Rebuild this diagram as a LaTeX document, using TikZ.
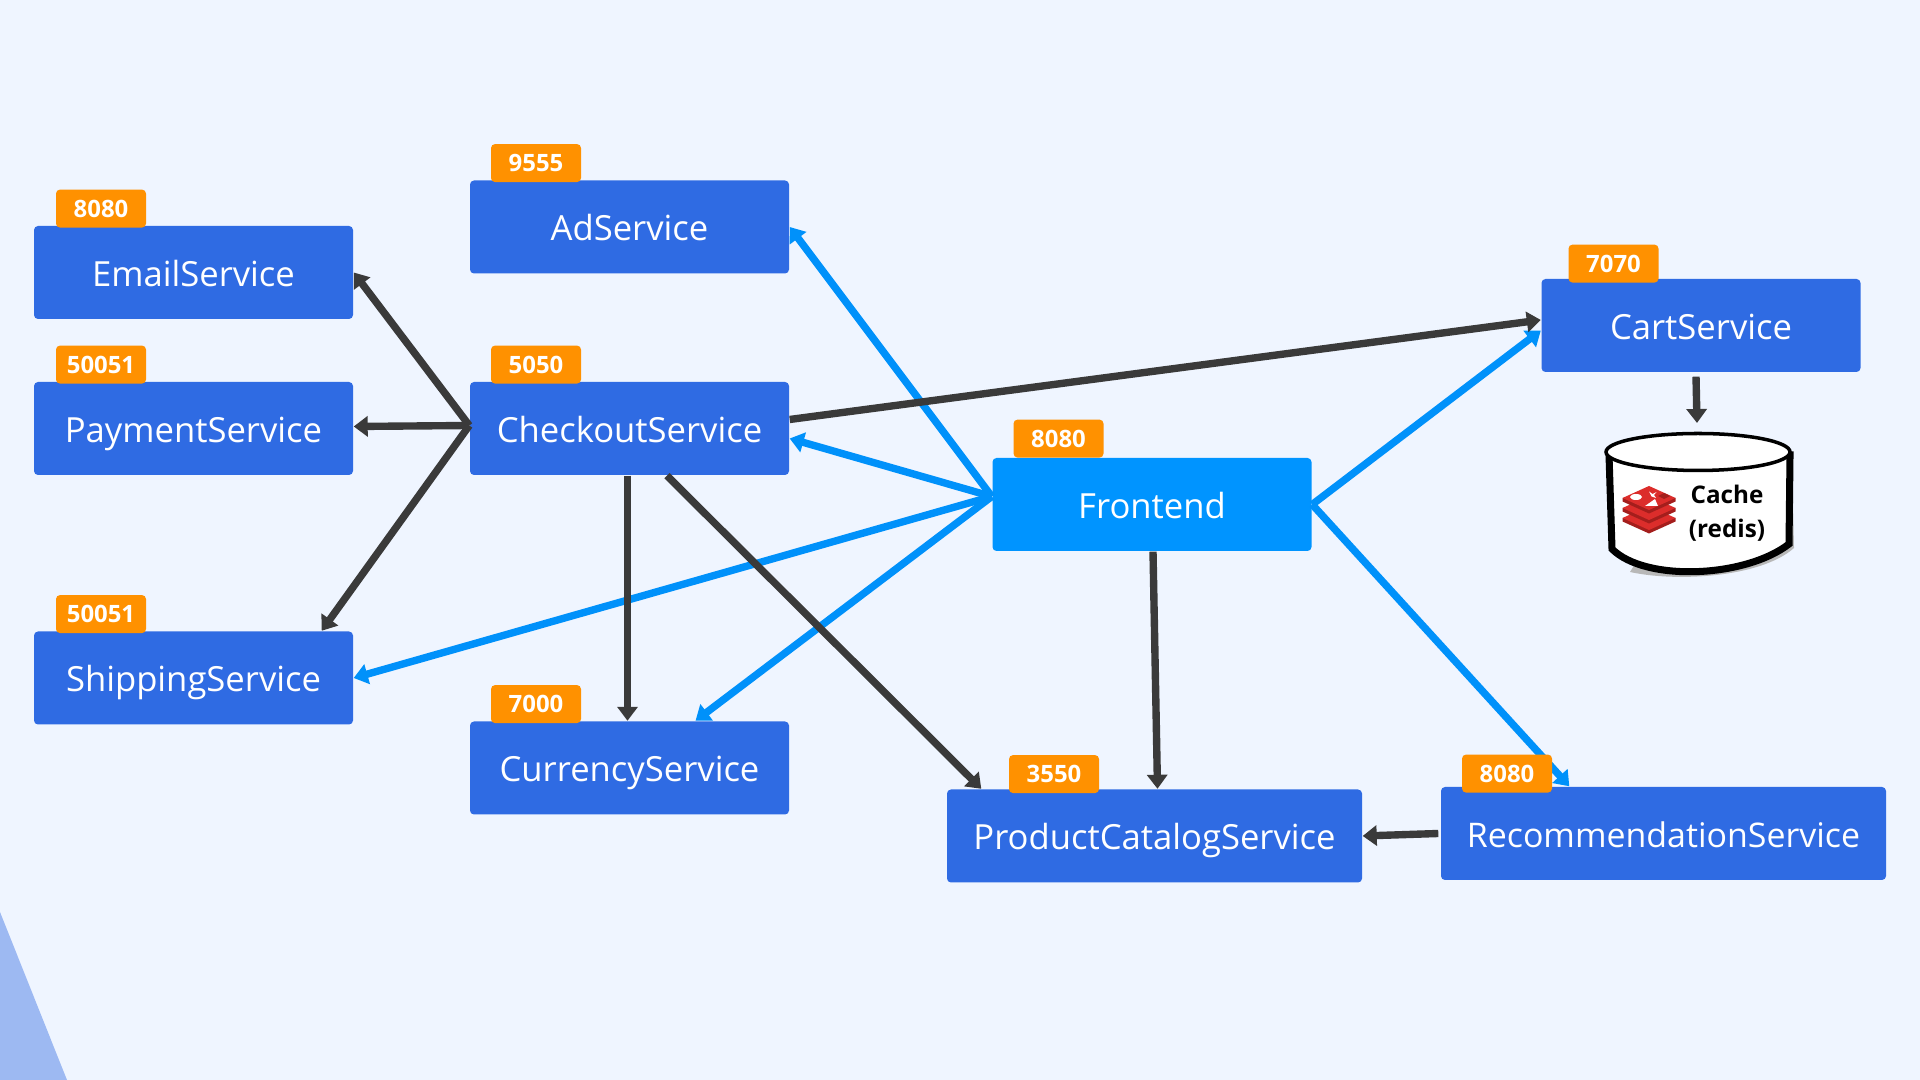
\documentclass[tikz,border=0pt]{standalone}
\usepackage{fontspec}
\setmainfont{Open Sans}
\usetikzlibrary{arrows.meta,positioning,calc}
\definecolor{pagebg}{HTML}{EFF5FF}
\definecolor{cornerblue}{HTML}{9DB9F2}
\definecolor{boxblue}{HTML}{2F6BE3}
\definecolor{frontblue}{HTML}{0094FF}
\definecolor{linkblue}{HTML}{0091FA}
\definecolor{linkdark}{HTML}{3A3A3A}
\definecolor{badgeorange}{HTML}{FF9100}
\definecolor{redislight}{HTML}{DC2D2B}
\definecolor{redisdark}{HTML}{A41E1C}
\tikzset{
    service/.style={fill=boxblue, rounded corners=0.04cm, minimum width=3.19cm, minimum height=0.93cm, inner sep=0pt, text=white, text height=0.28cm, text depth=0cm, font=\fontsize{9.85}{11}\selectfont},
    badge/.style={fill=badgeorange, rounded corners=0.04cm, minimum width=0.9cm, minimum height=0.38cm, inner sep=0pt, text=white, font=\fontsize{6.8}{8}\selectfont\bfseries},
    darklink/.style={draw=linkdark, line width=2.1pt, -{Triangle[length=0.14cm,width=0.2cm]}},
    bluelink/.style={draw=linkblue, line width=2.1pt, -{Triangle[length=0.14cm,width=0.2cm]}}
}
\begin{document}
\begin{tikzpicture}
    \useasboundingbox (0,0) rectangle (19.2,10.8);
    % Background
    \fill[pagebg] (0,0) rectangle (19.2,10.8);
    \fill[cornerblue] (0,1.68) -- (0.67,0) -- (0,0) -- cycle;

    % Nodes
    \node[service] (email) at (1.935,8.075) {EmailService};
    \node[service] (payment) at (1.935,6.515) {PaymentService};
    \node[service] (shipping) at (1.935,4.02) {ShippingService};
    \node[service] (ad) at (6.295,8.53) {AdService};
    \node[service] (checkout) at (6.295,6.515) {CheckoutService};
    \node[service] (currency) at (6.295,3.12) {CurrencyService};
    \node[service, fill=frontblue] (frontend) at (11.52,5.755) {Frontend};
    \node[service] (cart) at (17.01,7.545) {CartService};
    \node[service, minimum width=4.15cm] (catalog) at (11.545,2.44) {ProductCatalogService};
    \node[service, minimum width=4.45cm, font=\fontsize{9.65}{11}\selectfont] (recommendation) at (16.635,2.465) {RecommendationService};

    % Cache
    \fill[black!28] (17.0,6.2) -- (17.92,6.2) -- (17.94,5.32) .. controls (17.6,5.02) and (16.75,4.98) .. (16.3,5.08) -- cycle;
    \filldraw[fill=white, draw=black, line width=2pt] (16.09,6.25) -- (16.12,5.31) .. controls (16.45,4.98) and (17.45,5.02) .. (17.89,5.36) -- (17.9,6.25) -- cycle;
    \filldraw[fill=white, draw=black, line width=1pt] (16.98,6.28) ellipse (0.92 and 0.185);
    \node[font=\fontsize{6.9}{9.7}\selectfont\bfseries, align=center, inner sep=0pt] (cachelabel) at (17.27,5.67) {Cache\\(redis)};
    \coordinate (cachetop) at (16.97,6.57);

    % Redis logo
    \begin{scope}[shift={(16.49,5.70)}]
        \foreach \dy in {-0.2,-0.1,0} {
            \fill[redisdark] (-0.265,{\dy+0.12}) -- (-0.265,{\dy+0.085}) -- (0,{\dy-0.035}) -- (0.265,{\dy+0.085}) -- (0.265,{\dy+0.12}) -- cycle;
            \fill[redislight] (-0.265,{\dy+0.12}) -- (0,{\dy+0.24}) -- (0.265,{\dy+0.12}) -- (0,{\dy}) -- cycle;
        }
        \fill[white] (-0.13,0.13) ellipse (0.06 and 0.03);
        \fill[white] (0.0,0.185) -- (0.035,0.16) -- (0.075,0.18) -- (0.05,0.15) -- (0.07,0.12) -- (0.025,0.135) -- cycle;
        \fill[white] (-0.04,0.04) -- (0.09,0.04) -- (0.06,0.11) -- cycle;
        \fill[redisdark] (0.09,0.14) -- (0.15,0.17) -- (0.21,0.14) -- (0.15,0.11) -- cycle;
    \end{scope}

    % Connections
    \coordinate (frontwest) at ([yshift=0.08cm]frontend.west);
    \draw[bluelink] (frontwest) -- (ad.east);
    \draw[bluelink] (frontwest) -- ([yshift=-0.1cm]checkout.east);
    \draw[bluelink] (frontwest) -- (shipping.east);
    \draw[bluelink] (frontwest) -- ([xshift=0.66cm]currency.north);
    \draw[bluelink] (frontend.east) -- ([yshift=-0.05cm]cart.west);
    \draw[bluelink] (frontend.east) -- ([xshift=1.29cm]recommendation.north west);

    \coordinate (checkwest) at ([yshift=0.03cm]checkout.west);
    \draw[darklink] (checkwest) -- (email.east);
    \draw[darklink] (checkwest) -- ([yshift=0.02cm]payment.east);
    \draw[darklink] (checkwest) -- ([xshift=-0.32cm]shipping.north east);
    \draw[darklink] ([xshift=-0.02cm]checkout.south) -- ([xshift=-0.02cm]currency.north);
    \draw[darklink] ([xshift=0.375cm]checkout.south) -- ([xshift=0.35cm]catalog.north west);
    \draw[darklink] ([yshift=0.09cm]checkout.east) -- ([yshift=0.055cm]cart.west);
    \draw[darklink] ([xshift=0.01cm]frontend.south) -- ([xshift=0.03cm]catalog.north);
    \draw[darklink] ([xshift=-0.02cm]recommendation.west) -- (catalog.east);
    \draw[darklink] ([xshift=-0.05cm,yshift=-0.04cm]cart.south) -- (cachetop);

    % Ports
    \node[badge, above right=-0.03cm and 0.22cm of email.north west] (emailport) {8080};
    \node[badge, above right=-0.03cm and 0.22cm of payment.north west] (paymentport) {50051};
    \node[badge, above right=-0.03cm and 0.22cm of shipping.north west] (shippingport) {50051};
    \node[badge, above right=-0.03cm and 0.21cm of ad.north west] (adport) {9555};
    \node[badge, above right=-0.03cm and 0.21cm of checkout.north west] (checkoutport) {5050};
    \node[badge, above right=-0.03cm and 0.21cm of currency.north west] (currencyport) {7000};
    \node[badge, above right=-0.01cm and 0.21cm of frontend.north west] (frontendport) {8080};
    \node[badge, above right=-0.05cm and 0.27cm of cart.north west] (cartport) {7070};
    \node[badge, above right=-0.05cm and 0.62cm of catalog.north west] (catalogport) {3550};
    \node[badge, above right=-0.07cm and 0.21cm of recommendation.north west] (recommendationport) {8080};
\end{tikzpicture}
\end{document}
